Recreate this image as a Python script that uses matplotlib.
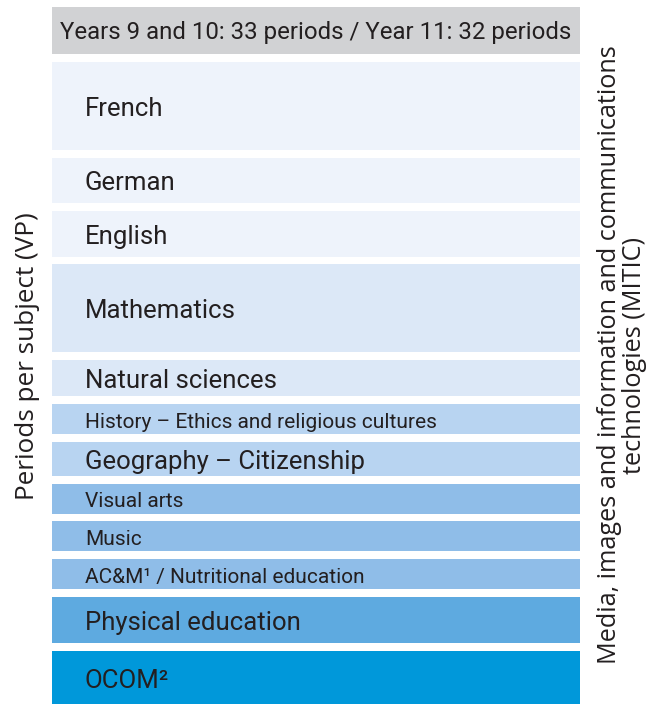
import matplotlib
matplotlib.use("Agg")
import matplotlib.pyplot as plt

# subjects from top to bottom, with the height of each block
subjects = ["French", "German", "English", "Mathematics", "Natural sciences",
            "History \u2013 Ethics and religious cultures", "Geography \u2013 Citizenship",
            "Visual arts", "Music", "AC&M\u00b9 / Nutritional education",
            "Physical education", "OCOM\u00b2"]
block_heights = [88, 45, 46, 88, 36, 30, 34, 30, 30, 30, 46, 54]
colors = ["#eef3fb", "#eef3fb", "#eef3fb", "#dce8f7", "#dce8f7", "#b8d4f1", "#b8d4f1",
          "#8fbde8", "#8fbde8", "#8fbde8", "#5eaae0", "#0098da"]
label_sizes = [18.5, 18.5, 18.5, 18.5, 18.5, 15, 18.5, 15, 15, 15, 18.5, 18.5]

header = "Years 9 and 10: 33 periods / Year 11: 32 periods"
left_label = "Periods per subject (VP)"
right_label = "Media, images and information and communications\ntechnologies (MITIC)"

W, H = 666, 704
box_left, box_right = 52, 580
gap = 7.8
text_col = "#231f20"

fig = plt.figure(figsize=(W / 100, H / 100), dpi=100)
ax = fig.add_axes([0, 0, 1, 1])
ax.set_xlim(0, W)
ax.set_ylim(H, 0)
ax.axis("off")

# header bar
ax.barh(30.5, box_right - box_left, left=box_left, height=47, color="#d1d2d4", align="center")
ax.text((box_left + box_right) / 2, 33, header, ha="center", va="center",
        fontsize=17.3, family="Roboto", color=text_col)

top = 62
for name, h, c, fs in zip(subjects, block_heights, colors, label_sizes):
    ax.barh(top + h / 2, box_right - box_left, left=box_left, height=h, color=c, align="center")
    ax.text(85, top + h / 2 + 3, name, ha="left", va="center", fontsize=fs,
            family="Roboto", color=text_col)
    top += h + gap

ax.text(28, 356, left_label, rotation=90, ha="center", va="center",
        fontsize=18.8, family="Open Sans", color=text_col)
ax.text(622, 355, right_label, rotation=90, ha="center", va="center",
        fontsize=18.2, family="Open Sans", color=text_col, linespacing=0.95,
        multialignment="center")

fig.savefig("out.png", dpi=100)
